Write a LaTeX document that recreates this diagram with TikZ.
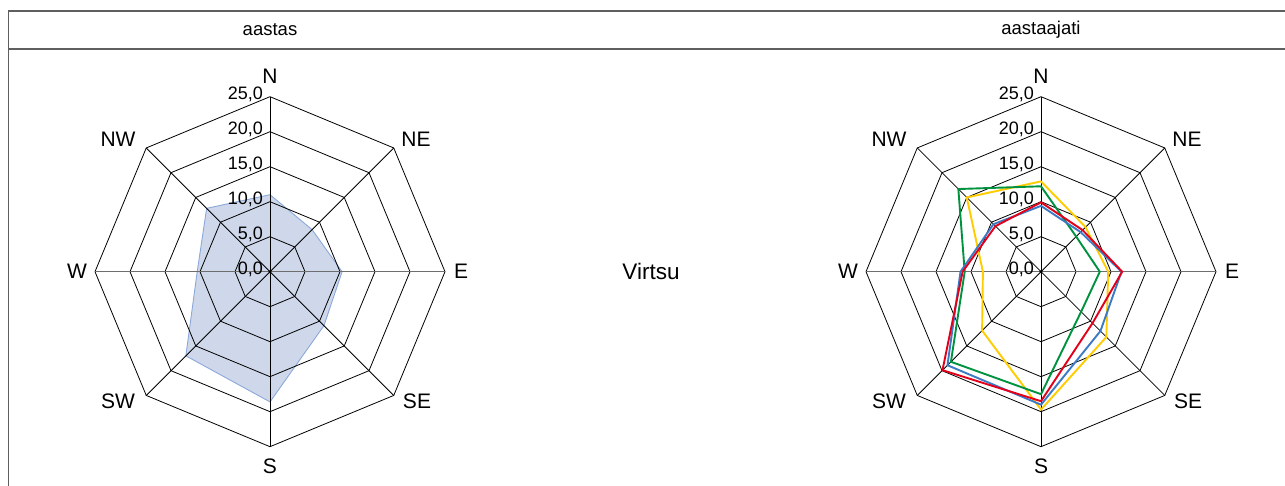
\documentclass[tikz,border=0pt]{standalone}
\usepackage{fontspec}
\setmainfont{Liberation Sans}
\usetikzlibrary{positioning}

\definecolor{fillblue}{RGB}{206,216,234}
\definecolor{lineblue}{RGB}{140,168,218}
\definecolor{serred}{RGB}{226,0,26}
\definecolor{serblue}{RGB}{60,122,196}
\definecolor{sergreen}{RGB}{0,146,63}
\definecolor{seryellow}{RGB}{255,204,0}
\definecolor{framegray}{RGB}{95,95,95}
\definecolor{axisgray}{RGB}{110,110,110}

\tikzset{
  ring/.style={black, line width=0.8pt},
  spoke/.style={black, line width=0.8pt},
  hspoke/.style={axisgray, line width=1.4pt},
  compass/.style={font=\fontsize{21}{22}\selectfont, inner sep=0pt},
  ticklabel/.style={font=\fontsize{18}{19}\selectfont, inner sep=0pt, anchor=east},
  header/.style={font=\fontsize{18.5}{19}\selectfont, inner sep=0pt},
  series/.style={line width=1.9pt},
}

% one closed wind line: style, then N NE E SE S SW W NW (in %)
\newcommand{\windline}[9]{%
  \draw[#1] (90:7*#2) -- (45:7*#3) -- (0:7*#4) -- (-45:7*#5) -- (-90:7*#6)
    -- (-135:7*#7) -- (180:7*#8) -- (135:7*#9) -- cycle;}

\begin{document}
\begin{tikzpicture}[x=1pt,y=1pt]
    \useasboundingbox (0,0) rectangle (1285,486);

    % table frame
    \draw[framegray, line width=1.2pt] (8.5,0) -- (8.5,475) -- (1285,475);
    \draw[framegray, line width=1.2pt] (8.5,437) -- (1285,437);
    \node[header] (hdyear) at (270,456) {aastas};
    \node[header] (hdseason) at (1041,456) {aastaajati};
    \node[font=\fontsize{22.5}{23}\selectfont, inner sep=0pt] (station) at (651,214.3) {Virtsu};

    % yearly rose, filled
    \begin{scope}[shift={(270,214.3)}]
        \windline{fill=fillblue, draw=lineblue, line width=0.9pt}{11.0}{8.5}{10.3}{10.9}{18.6}{17.0}{10.4}{12.8}
    \end{scope}

    % both grids
    \foreach \cx/\nm in {270/a, 1041/b} {
        \begin{scope}[shift={(\cx,214.3)}]
            \foreach \r in {35,70,...,175}
                \draw[ring] (0:\r) -- (45:\r) -- (90:\r) -- (135:\r) -- (180:\r)
                    -- (225:\r) -- (270:\r) -- (315:\r) -- cycle;
            \foreach \a in {45,135,225,315}
                \draw[spoke] (0,0) -- (\a:175);
            \draw[spoke] (0,-175) -- (0,175);
            \draw[hspoke] (-175,0) -- (175,0);
            \fill (0,0) circle (1.6);

            \foreach \v [count=\i from 0] in {0,5,10,15,20,25}
                \node[ticklabel] (\nm-t\i) at (-7,35*\i+2.5) {\v,0};

            \node[compass] (\nm-N) at (0,195) {N};
            \node[compass] (\nm-NE) at (146,132) {NE};
            \node[compass] (\nm-E) at (191,0) {E};
            \node[compass] (\nm-SE) at (147,-130) {SE};
            \node[compass] (\nm-S) at (0,-195) {S};
            \node[compass] (\nm-SW) at (-152,-130) {SW};
            \node[compass] (\nm-W) at (-193,0) {W};
            \node[compass] (\nm-NW) at (-152,132) {NW};
        \end{scope}
    }

    % seasonal lines
    \begin{scope}[shift={(1041,214.3)}]
        \windline{series, seryellow}{12.9}{9.0}{9.6}{13.2}{19.7}{11.9}{8.3}{15.0}
        \windline{series, sergreen}{12.2}{7.1}{8.4}{8.1}{17.5}{18.2}{10.9}{16.7}
        \windline{series, serblue}{9.4}{8.0}{11.5}{12.0}{19.0}{18.9}{11.5}{9.6}
        \windline{series, serred}{9.9}{8.4}{11.6}{10.4}{18.5}{19.9}{11.2}{9.2}
    \end{scope}
\end{tikzpicture}
\end{document}
